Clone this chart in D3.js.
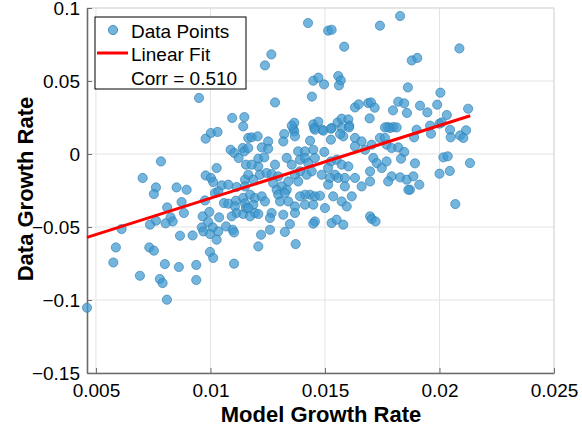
<!DOCTYPE html>
<html>
<head>
<meta charset="utf-8">
<script src="https://cdn.jsdelivr.net/npm/d3@7"></script>
<style>
  body { margin: 0; background: #fff; }
  svg text { font-family: "Liberation Sans", Arial, sans-serif; fill: #000; }
</style>
</head>
<body>
<div id="chart"></div>
<script>
// model growth rate (x) and data growth rate (y)
var modelRate = [
  0.00950,0.01095,0.01148,0.01143,0.01426,0.01514,0.01529,0.01740,0.01828,0.01584,
  0.01266,0.01238,0.01879,0.01449,0.01471,0.01496,0.01558,0.01569,0.01561,0.01862,
  0.01282,0.01443,0.01631,0.01647,0.01689,0.01701,0.01717,0.01797,0.01820,0.01846,
  0.01858,0.01695,0.01366,0.01449,0.01471,0.01555,0.01573,0.01602,0.01606,0.01488,
  0.01529,0.01774,0.01798,0.01362,0.01453,0.02087,0.01903,0.02004,0.01915,0.01947,
  0.01990,0.02032,0.02125,0.01959,0.02000,0.02010,0.02046,0.02116,0.01900,0.02049,
  0.02090,0.02104,0.01963,0.01889,0.02017,0.02036,0.02133,0.01893,0.02000,0.02045,
  0.01912,0.01871,0.02069,0.00979,0.01002,0.01031,0.01088,0.01104,0.01123,0.01141,
  0.01148,0.01165,0.01155,0.00784,0.00704,0.01027,0.00979,0.01002,0.01012,0.01020,
  0.01049,0.01078,0.01114,0.01151,0.00762,0.00753,0.00852,0.00896,0.00874,0.00976,
  0.01034,0.01059,0.01078,0.01111,0.01107,0.01143,0.01151,0.00811,0.00884,0.00826,
  0.00835,0.00804,0.00762,0.00736,0.00612,0.00966,0.00995,0.01038,0.00990,0.00962,
  0.01010,0.01034,0.01068,0.01097,0.01103,0.01114,0.01093,0.01143,0.01155,0.00969,
  0.00998,0.01027,0.00867,0.00922,0.00587,0.00733,0.00753,0.00998,0.00576,0.00692,
  0.00779,0.00791,0.00801,0.00862,0.00938,0.00938,0.01012,0.01103,0.00810,0.00461,
  0.01180,0.01206,0.01165,0.01224,0.01252,0.01252,0.01322,0.01366,0.01369,0.01355,
  0.01318,0.01435,0.01456,0.01493,0.01526,0.01526,0.01573,0.01580,0.01566,0.01605,
  0.01631,0.01660,0.01704,0.01740,0.01762,0.01784,0.01813,0.01769,0.01791,0.01820,
  0.01846,0.01832,0.01762,0.01209,0.01235,0.01209,0.01180,0.01165,0.01187,0.01216,
  0.01245,0.01267,0.01282,0.01296,0.01333,0.01355,0.01383,0.01391,0.01413,0.01413,
  0.01427,0.01449,0.01456,0.01369,0.01391,0.01420,0.01442,0.01340,0.01383,0.01311,
  0.01333,0.01486,0.01497,0.01526,0.01514,0.01551,0.01573,0.01602,0.01544,0.01558,
  0.01587,0.01522,0.01514,0.01587,0.01631,0.01660,0.01697,0.01631,0.01675,0.01711,
  0.01726,0.01697,0.01748,0.01769,0.01791,0.01776,0.01828,0.01857,0.01864,0.01886,
  0.01151,0.01173,0.01194,0.01224,0.01238,0.01187,0.01165,0.01194,0.01173,0.01209,
  0.01267,0.01260,0.01274,0.01289,0.01296,0.01325,0.01304,0.01340,0.01369,0.01318,
  0.01369,0.01413,0.01435,0.01456,0.01478,0.01449,0.01500,0.01413,0.01391,0.01456,
  0.01449,0.01529,0.01551,0.01580,0.01536,0.01573,0.01595,0.01617,0.01697,0.01704,
  0.01721,0.01347,0.01325,0.01260,0.01221,0.01372,0.01209
];
var dataRate = [
  0.0384,0.0247,0.0253,0.0189,0.0897,0.0845,0.0851,0.0879,0.0945,0.0735,
  0.0682,0.0607,0.0641,0.0502,0.0523,0.0477,0.0534,0.0504,0.0470,0.0456,
  0.0353,0.0393,0.0319,0.0340,0.0349,0.0353,0.0317,0.0299,0.0358,0.0347,
  0.0281,0.0244,0.0214,0.0203,0.0221,0.0216,0.0242,0.0237,0.0194,0.0166,
  0.0178,0.0185,0.0185,0.0171,0.0178,0.0723,0.0658,0.0420,0.0331,0.0285,
  0.0338,0.0267,0.0310,0.0194,0.0208,0.0216,0.0166,0.0162,0.0166,0.0114,
  0.0127,0.0110,0.0139,0.0114,-0.0023,-0.0016,-0.0062,-0.0064,-0.0135,-0.0116,
  -0.0210,-0.0245,-0.0343,0.0105,0.0144,0.0151,0.0029,0.0007,-0.0027,0.0041,
  0.0018,0.0110,-0.0073,-0.0051,-0.0164,-0.0096,-0.0147,-0.0164,-0.0192,-0.0267,
  -0.0215,-0.0210,-0.0226,-0.0176,-0.0229,-0.0274,-0.0229,-0.0245,-0.0329,-0.0318,
  -0.0256,-0.0336,-0.0340,-0.0320,-0.0359,-0.0301,-0.0338,-0.0366,-0.0404,-0.0434,
  -0.0462,-0.0475,-0.0457,-0.0484,-0.0514,-0.0427,-0.0397,-0.0434,-0.0466,-0.0503,
  -0.0503,-0.0530,-0.0496,-0.0519,-0.0537,-0.0404,-0.0427,-0.0411,-0.0370,-0.0530,
  -0.0548,-0.0587,-0.0560,-0.0558,-0.0640,-0.0640,-0.0662,-0.0671,-0.0743,-0.0834,
  -0.0856,-0.0884,-0.0754,-0.0774,-0.0760,-0.0863,-0.0712,-0.0751,-0.0998,-0.1053,
  0.0114,0.0121,0.0041,0.0045,0.0086,0.0036,0.0137,0.0155,0.0121,0.0194,
  0.0086,0.0091,0.0166,0.0160,0.0173,0.0098,0.0178,0.0121,0.0137,0.0182,
  0.0110,0.0086,0.0064,0.0110,0.0110,0.0178,0.0182,0.0064,0.0041,0.0045,
  0.0014,-0.0032,0.0182,-0.0032,-0.0023,-0.0085,-0.0073,-0.0142,-0.0176,-0.0142,
  -0.0130,-0.0137,-0.0073,-0.0153,-0.0027,-0.0073,0.0018,-0.0039,0.0018,-0.0027,
  -0.0062,0.0029,-0.0027,-0.0142,-0.0119,-0.0142,-0.0119,-0.0188,-0.0188,-0.0222,
  -0.0245,-0.0142,0.0014,-0.0051,-0.0096,-0.0039,-0.0073,-0.0085,-0.0142,-0.0164,
  -0.0164,-0.0164,-0.0210,-0.0222,-0.0164,-0.0222,-0.0188,0.0052,0.0029,-0.0027,
  -0.0062,-0.0119,-0.0096,-0.0051,-0.0153,-0.0188,-0.0160,-0.0176,-0.0245,-0.0153,
  -0.0222,-0.0279,-0.0301,-0.0290,-0.0325,-0.0347,-0.0370,-0.0404,-0.0427,-0.0411,
  -0.0404,-0.0438,-0.0199,-0.0245,-0.0279,-0.0267,-0.0325,-0.0325,-0.0359,-0.0416,
  -0.0404,-0.0347,-0.0279,-0.0290,-0.0286,-0.0347,-0.0370,-0.0279,-0.0290,-0.0462,
  -0.0477,-0.0473,-0.0450,-0.0484,-0.0290,-0.0325,-0.0359,-0.0290,-0.0427,-0.0445,
  -0.0462,-0.0480,-0.0534,-0.0519,-0.0553,-0.0617,-0.0633
];

// linear fit: slope, intercept, and x extent of the drawn line
var fitCoef = [4.98, -0.0801];
var fitRange = [0.00461, 0.02134];
var corrText = "Corr = 0.510";

var xTicks = [0.005, 0.01, 0.015, 0.02, 0.025];
var yTicks = [-0.15, -0.1, -0.05, 0, 0.05, 0.1];

var width = 582, height = 432;
var margin = {top: 8, right: 28, bottom: 59, left: 87};
var tickFont = 19;

var svg = d3.select("#chart").append("svg")
    .attr("width", width)
    .attr("height", height);

var x = d3.scaleLinear()
    .domain([0.00461, 0.025])
    .range([margin.left, width - margin.right]);
var y = d3.scaleLinear()
    .domain([-0.15, 0.1])
    .range([height - margin.bottom, margin.top]);

//Grid lines
var grid = svg.append("g").attr("stroke", "#e3e3e3").attr("stroke-width", 1);
xTicks.forEach(function (t) {
    grid.append("line")
        .attr("x1", x(t)).attr("x2", x(t))
        .attr("y1", y(-0.15)).attr("y2", y(0.1));
});
yTicks.forEach(function (t) {
    grid.append("line")
        .attr("x1", x.range()[0]).attr("x2", x.range()[1])
        .attr("y1", y(t)).attr("y2", y(t));
});

//Light frame on top and right
svg.append("path")
    .attr("d", "M" + x.range()[0] + "," + y(0.1) + "H" + x.range()[1] + "V" + y(-0.15))
    .attr("fill", "none")
    .attr("stroke", "#d9d9d9");

//Axes
var xAxis = svg.append("g")
    .attr("transform", "translate(0," + y(-0.15) + ")")
    .call(d3.axisBottom(x).tickValues(xTicks).tickSizeInner(-5).tickSizeOuter(0)
        .tickFormat(function (d) { return d3.format("")(+d.toFixed(3)); }));
var yAxis = svg.append("g")
    .attr("transform", "translate(" + x.range()[0] + ",0)")
    .call(d3.axisLeft(y).tickValues(yTicks).tickSizeInner(-5).tickSizeOuter(0)
        .tickFormat(function (d) { return d3.format("")(+d.toFixed(2)); }));

[xAxis, yAxis].forEach(function (a) {
    a.select(".domain").attr("stroke", "#6b6b6b").attr("stroke-width", 1.6);
    a.selectAll(".tick line").attr("stroke", "#6b6b6b");
    a.selectAll(".tick text")
        .attr("font-size", tickFont)
        .attr("font-family", "Liberation Sans, Arial, sans-serif")
        .attr("fill", "#000");
});
xAxis.selectAll(".tick text").attr("y", 11).attr("dy", "0.71em");
yAxis.selectAll(".tick text").attr("x", -7);

//Points
var pts = modelRate.map(function (m, i) { return {x: m, y: dataRate[i]}; });
svg.append("g").selectAll("circle")
    .data(pts)
    .enter().append("circle")
    .attr("cx", function (d) { return x(d.x); })
    .attr("cy", function (d) { return y(d.y); })
    .attr("r", 4.6)
    .attr("fill", "#3d99d0")
    .attr("fill-opacity", 0.72)
    .attr("stroke", "#2e7db0")
    .attr("stroke-opacity", 0.8)
    .attr("stroke-width", 0.8);

//Fit line
var line = d3.line()
    .x(function (d) { return x(d); })
    .y(function (d) { return y(fitCoef[0] * d + fitCoef[1]); });
svg.append("path")
    .datum(fitRange)
    .attr("d", line)
    .attr("fill", "none")
    .attr("stroke", "#ff0000")
    .attr("stroke-width", 3);

//Axis titles
svg.append("text")
    .attr("x", 321)
    .attr("y", 422)
    .attr("text-anchor", "middle")
    .attr("font-size", 22)
    .attr("font-weight", "bold")
    .text("Model Growth Rate");
svg.append("text")
    .attr("transform", "translate(33,189) rotate(-90)")
    .attr("text-anchor", "middle")
    .attr("font-size", 22)
    .attr("font-weight", "bold")
    .text("Data Growth Rate");

//Legend
var lg = svg.append("g").attr("transform", "translate(95,17)");
lg.append("rect")
    .attr("width", 151).attr("height", 72)
    .attr("fill", "#fff").attr("stroke", "#000").attr("stroke-width", 1);
lg.append("circle")
    .attr("cx", 18).attr("cy", 13).attr("r", 4.6)
    .attr("fill", "#3d99d0").attr("fill-opacity", 0.72)
    .attr("stroke", "#2e7db0").attr("stroke-width", 0.8);
lg.append("line")
    .attr("x1", 2).attr("x2", 33).attr("y1", 36).attr("y2", 36)
    .attr("stroke", "#ff0000").attr("stroke-width", 3);
var labels = ["Data Points", "Linear Fit", corrText];
labels.forEach(function (t, i) {
    lg.append("text")
        .attr("x", 36).attr("y", 14 + i * 23.5)
        .attr("dy", "0.36em")
        .attr("font-size", 19)
        .text(t);
});
</script>
</body>
</html>
